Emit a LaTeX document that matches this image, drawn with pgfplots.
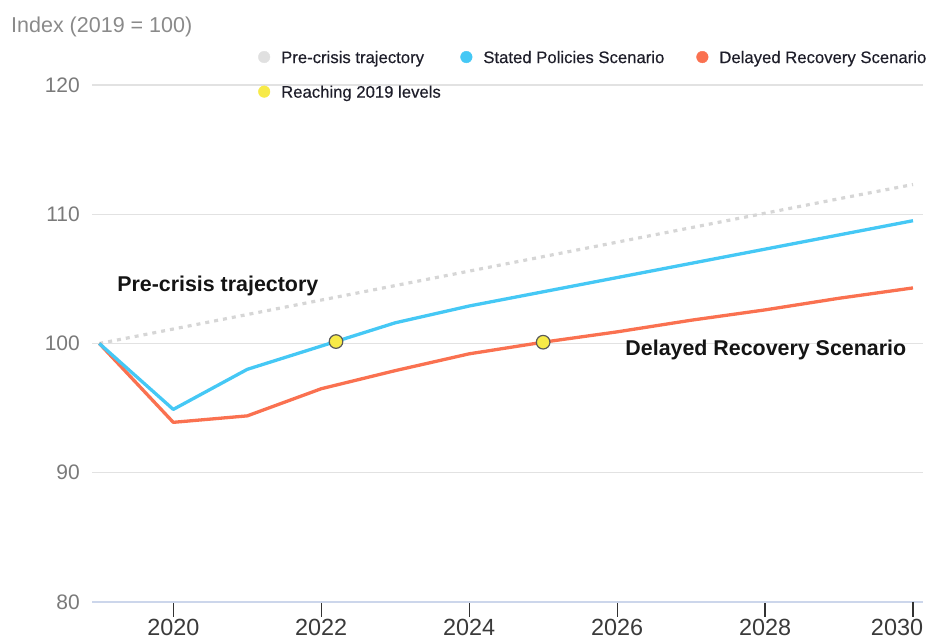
\documentclass[border=0pt]{standalone}
\usepackage{pgfplots}
\pgfplotsset{compat=1.18}
\usepackage{fontspec}
\setmainfont{Liberation Sans}
\newfontfamily\legfont{Liberation Sans}[FakeBold=0.35]
\definecolor{blueline}{HTML}{45C8F5}
\definecolor{orangeline}{HTML}{FA7150}
\definecolor{precrisis}{HTML}{D6D6D6}
\definecolor{gridc}{HTML}{E2E2E2}
\definecolor{axisc}{HTML}{CCD6EB}
\definecolor{ytickc}{HTML}{7A7A7A}
\definecolor{xtickc}{HTML}{3A3A3A}
\definecolor{dotyellow}{HTML}{F7EA48}
\definecolor{dotgray}{HTML}{E0E0E0}
\definecolor{legtext}{HTML}{1E1E2A}
\definecolor{annot}{HTML}{141414}
\definecolor{titlec}{HTML}{8A8A8A}
\begin{document}
\begin{tikzpicture}
\path[use as bounding box] (-92.5pt,-37pt) rectangle (837.5pt,602pt);
\begin{axis}[
  at={(0pt,0pt)}, anchor=south west,
  scale only axis, width=830.5pt, height=517pt,
  xmin=2018.908, xmax=2030.135, ymin=80, ymax=120,
  axis x line*=bottom, axis y line*=left,
  x axis line style={axisc, line width=1.5pt, -},
  y axis line style={draw=none},
  xtick={2020,2022,2024,2026,2028},
  extra x ticks={2030},
  extra x tick style={xticklabel style={xshift=-16pt}},
  ytick={80,90,100,110,120},
  ymajorgrids, grid style={gridc, line width=1.2pt},
  y tick style={draw=none},
  x tick style={black!80, line width=1.2pt},
  major tick length=-15pt, tick align=inside,
  /pgf/number format/1000 sep={},
  /pgf/number format/assume math mode=true,
  xticklabel style={font=\fontsize{23.4}{26}\selectfont, text=xtickc, inner sep=0pt, anchor=north, yshift=-17pt},
  yticklabel style={font=\fontsize{21}{24}\selectfont, text=ytickc, inner sep=0pt, anchor=east, xshift=-12.5pt},
  legend style={at={(0.1995,1.0658)}, anchor=north west, draw=none, fill=none,
    inner sep=0pt, outer sep=0pt,
    font=\legfont\fontsize{16.7}{20}\selectfont, text=legtext,
    nodes={inner sep=0pt, text depth=0pt},
    row sep=22.5pt,
    /tikz/every odd column/.append style={column sep=11pt},
    /tikz/column 2/.style={column sep=19.5pt},
    /tikz/column 4/.style={column sep=32pt}},
  legend cell align=left,
  legend columns=3,
]
\addlegendimage{legend image code/.code={\fill[dotgray] (5.8pt,0pt) circle (5.8pt);}}
\addlegendentry{Pre-crisis trajectory}
\addlegendimage{legend image code/.code={\fill[blueline] (5.8pt,0pt) circle (5.8pt);}}
\addlegendentry{Stated Policies Scenario}
\addlegendimage{legend image code/.code={\fill[orangeline] (5.8pt,0pt) circle (5.8pt);}}
\addlegendentry{Delayed Recovery Scenario}
\addlegendimage{legend image code/.code={\fill[dotyellow] (5.8pt,0pt) circle (5.8pt);}}
\addlegendentry{Reaching 2019 levels}

\addplot[forget plot, precrisis, line width=3.2pt, dash pattern=on 4pt off 5pt] coordinates {
(2019,100) (2020,101.12) (2021,102.24) (2022,103.36) (2023,104.48) (2024,105.6)
(2025,106.72) (2026,107.84) (2027,108.96) (2028,110.08) (2029,111.2) (2030,112.3)};
\addplot[forget plot, orangeline, line width=3.3pt, line join=round] coordinates {
(2019,100) (2020,93.9) (2021,94.4) (2022,96.5) (2023,97.9) (2024,99.2)
(2025,100.1) (2026,100.9) (2027,101.8) (2028,102.6) (2029,103.5) (2030,104.3)};
\addplot[forget plot, blueline, line width=3.3pt, line join=round] coordinates {
(2019,100) (2020,94.9) (2021,98.0) (2022,99.8) (2023,101.6) (2024,102.9)
(2025,104.0) (2026,105.1) (2027,106.2) (2028,107.3) (2029,108.4) (2030,109.5)};
\addplot[forget plot, only marks, mark=*, mark size=6.8pt,
  mark options={fill=dotyellow, draw=black!65, line width=1.2pt}] coordinates {
(2022.2,100.15) (2025,100.1)};

\node[anchor=base west, inner sep=0pt, font=\fontsize{21.4}{24}\selectfont\bfseries, text=annot]
  at (axis cs:2019.24,104.0) {Pre-crisis trajectory};
\node[anchor=base west, inner sep=0pt, font=\fontsize{21.4}{24}\selectfont\bfseries, text=annot]
  at (axis cs:2026.11,99.1) {Delayed Recovery Scenario};
\end{axis}
\node[anchor=base west, inner sep=0pt, font=\fontsize{21.5}{24}\selectfont, text=titlec]
  at (-81.5pt,569.3pt) {Index (2019 = 100)};
\end{tikzpicture}
\end{document}
